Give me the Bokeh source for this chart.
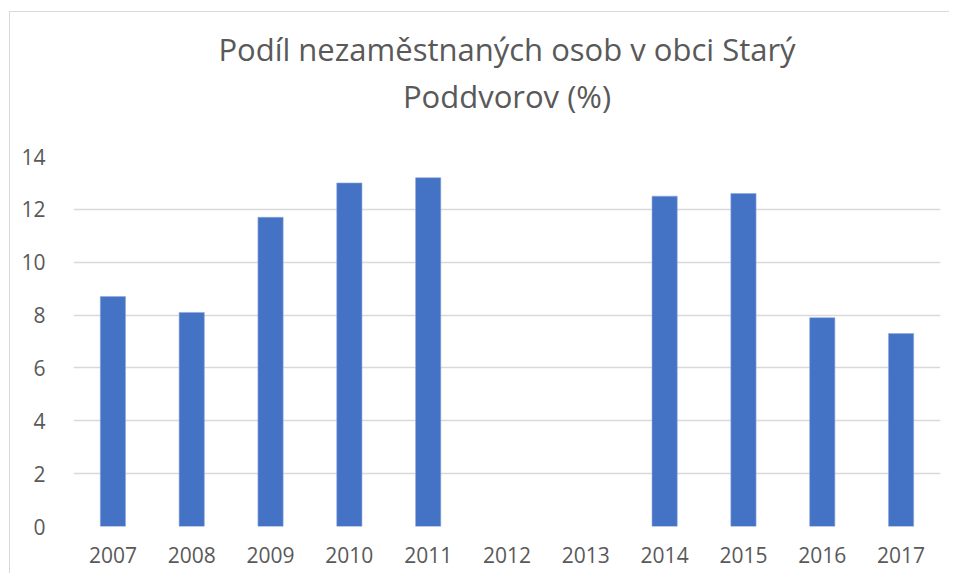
from bokeh.plotting import figure
from bokeh.models import Title, FixedTicker
from bokeh.embed import file_html
from bokeh.resources import INLINE

years = ["2007", "2008", "2009", "2010", "2011", "2012", "2013", "2014", "2015", "2016", "2017"]
values = [8.7, 8.1, 11.7, 13.0, 13.2, None, None, 12.5, 12.6, 7.9, 7.3]
y_ticks = [0, 2, 4, 6, 8, 10, 12, 14]
title_lines = ["Podíl nezaměstnaných osob v obci Starý", "Poddvorov (%)"]

FONT = "Open Sans"
TXT = "#595959"

bar_x = [y for y, v in zip(years, values) if v is not None]
bar_top = [v for v in values if v is not None]

p = figure(x_range=years, y_range=(0, 14), width=949, height=573,
           output_backend="svg", toolbar_location=None,
           min_border_left=73, min_border_right=9, min_border_top=156, min_border_bottom=47)
p.border_fill_color = None
p.background_fill_color = None
p.outline_line_color = None
p.styles = {"box-shadow": "inset 9px 0 0 #ffffff, inset 0 11px 0 #ffffff, inset 10px 0 0 #d9d9d9, inset 0 12px 0 #d9d9d9"}

p.vbar(x=bar_x, top=bar_top, width=0.32, fill_color="#4472C4", line_color="#8faadc", line_width=0.6)

p.yaxis.ticker = FixedTicker(ticks=y_ticks)
p.ygrid.ticker = FixedTicker(ticks=y_ticks)
p.xgrid.grid_line_color = None
p.ygrid.grid_line_color = "#d9d9d9"
p.ygrid.grid_line_width = 1.3

for ax in (p.xaxis[0], p.yaxis[0]):
    ax.axis_line_color = None
    ax.major_tick_line_color = None
    ax.minor_tick_line_color = None
    ax.major_label_text_font = FONT
    ax.major_label_text_font_size = "21px"
    ax.major_label_text_color = TXT
p.yaxis.major_label_standoff = 22
p.xaxis.major_label_standoff = 14

# spacer between the frame and the title block
p.add_layout(Title(text=" ", text_font_size="1px", standoff=35), "above")
# second line first (closest to the frame), then first line above it
for txt in reversed(title_lines):
    p.add_layout(Title(text=txt, align="center", text_font=FONT, text_font_size="31px",
                       text_font_style="normal", text_color=TXT, standoff=3), "above")

open("out.html", "w").write(file_html(p, INLINE))
